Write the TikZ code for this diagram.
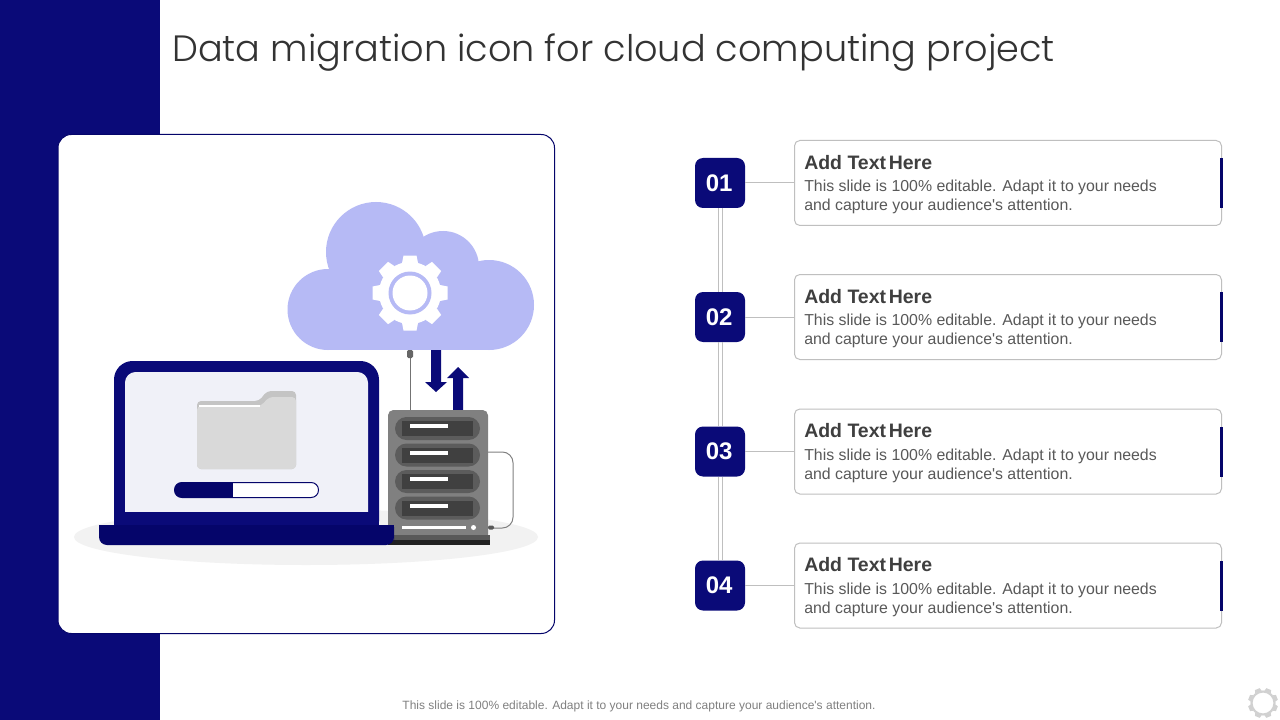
\documentclass[tikz,border=0pt]{standalone}
\usepackage{fontspec}
\setmainfont{Liberation Sans}
\newfontfamily\titlefont{Poppins Light}
\definecolor{navy}{HTML}{0A0A78}
\definecolor{navydark}{HTML}{05056A}
\definecolor{cloudc}{HTML}{B6BAF5}
\definecolor{screenc}{HTML}{F0F1F8}
\definecolor{ruleg}{HTML}{BFBFBF}
\definecolor{headg}{HTML}{3F3F3F}
\definecolor{bodyg}{HTML}{595959}
\tikzset{
  numbox/.style={fill=navy,rounded corners=6pt,minimum width=37.5pt,minimum height=37.5pt,inner sep=0pt,text=white,font=\fontsize{18}{20}\selectfont\bfseries},
  cardbox/.style={draw=ruleg,line width=.75pt,fill=white,rounded corners=4pt,minimum width=320.25pt,minimum height=63.75pt,inner sep=0pt},
  cardhead/.style={anchor=west,inner sep=0pt,text=headg,font=\fontsize{14.6}{17}\selectfont\bfseries},
  cardbody/.style={anchor=west,inner sep=0pt,align=left,text=bodyg,font=\fontsize{11.9}{14.25}\selectfont},
  link/.style={draw=ruleg,line width=.75pt},
  accent/.style={fill=navydark}
}
\begin{document}
\begin{tikzpicture}[x=.75pt,y=-.75pt]
\useasboundingbox (0,0) rectangle (1280,720);
\fill[white] (0,0) rectangle (1280,720);
\fill[navy] (0,0) rectangle (160,720);
\node[anchor=west,inner sep=0pt,text=black!80,font=\titlefont\fontsize{27.47}{32}\selectfont] (title) at (172,53) {Data migration icon for cloud computing project};
% panel
\draw[navydark,line width=.75pt,fill=white,rounded corners=10pt] (58,134.5) rectangle (554.5,633.5);
% ground
\fill[black!5] (306,537) ellipse [x radius=232,y radius=28];
% cloud
\begin{scope}[cloudc]
\fill (376,252) circle [radius=50];
\fill (443,267) circle [radius=36];
\fill (489,305) circle [radius=45];
\fill (328,309.5) circle [radius=40.5];
\fill (328,290) rectangle (489,350);
\fill (370,250) rectangle (470,300);
\end{scope}
% gear
\begin{scope}[shift={(410,293)}]
\foreach \a in {0,45,...,315}{
  \fill[white,rotate=\a] (-8,-30) -- (-6.5,-37.5) -- (6.5,-37.5) -- (8,-30) -- cycle;
}
\fill[white] (0,0) circle [radius=31];
\fill[cloudc] (0,0) circle [radius=21.5];
\fill[white] (0,0) circle [radius=17.5];
\end{scope}
% cable from cloud to server
\draw[black!55,line width=.75pt] (410,356) -- (410,410);
\fill[black!60,rounded corners=1pt] (407,350) rectangle (413,358);
% arrows
\fill[navy] (431,350) -- (441,350) -- (441,382) -- (447,382) -- (436,392) -- (425,382) -- (431,382) -- cycle;
\fill[navy] (453,410) -- (463,410) -- (463,378) -- (469,378) -- (458,367) -- (447,378) -- (453,378) -- cycle;
% server cable
\draw[black!50,line width=.75pt,rounded corners=8pt] (488,452) -- (513,452) -- (513,528) -- (492,528);
\fill[black!65,rounded corners=1pt] (488,525.5) rectangle (494,529.5);
% server
\fill[black!50,rounded corners=4pt] (388,410) rectangle (488,540);
\fill[black!65] (388,535) rectangle (490,540);
\fill[black!87] (388,540) rectangle (490,545);
\foreach \y in {0,26.5,53,79.5}{
  \fill[black!64,rounded corners=8.6pt] (395,417+\y) rectangle (480,440+\y);
  \fill[black!75] (402,421+\y) rectangle (473,436+\y);
  \fill[white] (410,424+\y) rectangle (448,428+\y);
}
\fill[white] (402,526) rectangle (466,529);
\fill[white] (473.5,527.5) circle [radius=2.5];
% laptop
\fill[navy,rounded corners=14pt] (114,361) rectangle (379,540);
\fill[screenc,rounded corners=8pt] (125,372) rectangle (368,530);
\fill[navy] (114,512) rectangle (379,526);
\fill[screenc] (125,500) rectangle (368,512);
\fill[navydark,rounded corners=6pt] (99,525) -- (394,525) -- (394,535) -- (394,545) -- (99,545) -- cycle;
\fill[navydark] (99,525) rectangle (394,535);
% folder
\fill[black!23,rounded corners=3pt] (197,469) -- (197,401) -- (259,401) -- (267,391) -- (296,391) -- (296,469) -- cycle;
\fill[black!15,rounded corners=3pt] (197,469) -- (197,406) -- (261,406) -- (269,397) -- (296,397) -- (296,469) -- cycle;
\draw[white,line width=1.8pt] (199,406) -- (260,406);
% progress bar
\draw[navydark,line width=.75pt,fill=white,rounded corners=5.5pt] (174.5,482.5) rectangle (318.5,497.5);
\fill[navydark,rounded corners=5.5pt] (174.5,482.5) -- (233,482.5) -- (233,497.5) -- (174.5,497.5) -- cycle;
\fill[navydark] (200,482.5) rectangle (233,497.5);
% list
\foreach \i/\y/\t in {1/183/01,2/317/02,3/451.5/03,4/585.5/04}{
  \node[numbox] (n\i) at (720,\y) {\hspace*{-1.2pt}\t};
  \node[cardbox] (c\i) at (1008,\y) {};
  \node[cardhead] (h\i) at (804,\y-20.5) {Add Text\hspace{-2pt} Here};
  \node[cardbody] (b\i) at (804,\y+14) {This slide is 100\% editable. Adapt it to your needs\\and capture your audience\textquotesingle s attention.};
  \fill[accent] (1220,\y-25) rectangle (1223,\y+25);
  \draw[link] (n\i) -- (c\i);
}
\foreach \a/\b in {n1/n2,n2/n3,n3/n4}{
  \draw[link] ([xshift=-1.5pt]\a.south) -- ([xshift=-1.5pt]\b.north);
  \draw[link] ([xshift=1.5pt]\a.south) -- ([xshift=1.5pt]\b.north);
}
% footer
\node[inner sep=0pt,text=black!50,font=\fontsize{9}{11}\selectfont] (foot) at (639,706) {This slide is 100\% editable. Adapt it to your needs and capture your audience\textquotesingle s attention.};
% corner gear
\begin{scope}[shift={(1263,703)}]
\foreach \a in {0,45,...,315}{
  \fill[black!18,rotate=\a+22.5] (-3.5,-12) -- (-2.5,-15) -- (2.5,-15) -- (3.5,-12) -- cycle;
}
\draw[black!18,line width=1.6pt] (0,0) circle [radius=11.5];
\end{scope}
\end{tikzpicture}
\end{document}
